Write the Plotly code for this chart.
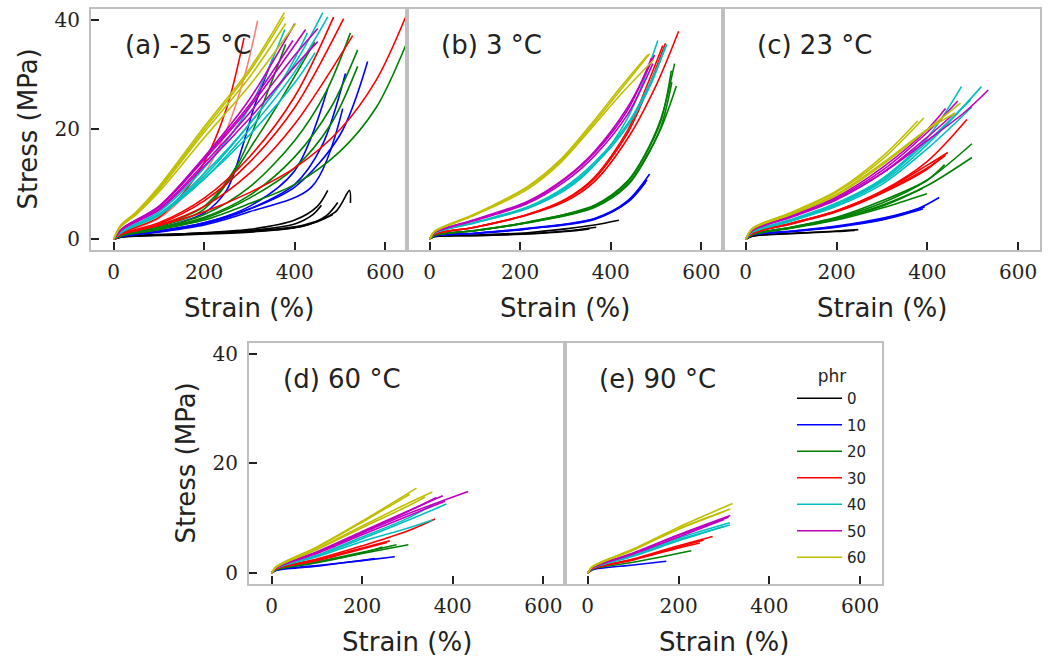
import plotly.graph_objects as go

PHR_LEVELS = [0, 10, 20, 30, 40, 50, 60]
PHR_COLORS = {0: "#000000", 10: "#0000ff", 20: "#008000", 30: "#ff0000",
              40: "#00bfbf", 50: "#bf00bf", 60: "#bfbf00"}
PANEL_LABELS = ["(a) -25 °C", "(b) 3 °C", "(c) 23 °C", "(d) 60 °C", "(e) 90 °C"]
X_TICKS = [0, 200, 400, 600]
Y_TICKS = [0, 20, 40]

# (phr, strain %, stress MPa) -- each tuple one tensile test curve
CURVES_M25 = [
    (0, [0, 20, 150, 300, 400, 450, 473], [0, 0.5, 1.0, 1.8, 3.5, 6.0, 8.9]),
    (0, [0, 20, 150, 300, 420, 490, 521, 523], [0, 0.5, 0.9, 1.5, 2.6, 5.0, 8.9, 6.6]),
    (0, [0, 20, 150, 300, 420, 470, 495], [0, 0.45, 0.9, 1.4, 2.4, 4.3, 6.7]),
    (0, [0, 20, 150, 300, 400, 440, 459], [0, 0.5, 1.0, 1.6, 2.8, 4.5, 6.2]),
    (0, [0, 20, 150, 300, 400, 450, 484], [0, 0.4, 0.8, 1.3, 2.1, 3.2, 4.5]),
    (10, [0, 20, 100, 200, 300, 400, 473], [0, 0.6, 1.5, 3.0, 6.0, 12.5, 27.5]),
    (10, [0, 20, 100, 200, 300, 400, 460, 512], [0, 0.6, 1.4, 2.8, 5.5, 10, 17, 30.2]),
    (10, [0, 20, 100, 200, 300, 437, 506], [0, 0.5, 1.3, 2.6, 5.0, 9.5, 23.8]),
    (10, [0, 20, 100, 200, 300, 400, 500, 561], [0, 0.6, 1.5, 3.0, 5.5, 9.5, 19, 32.4]),
    (10, [0, 20, 100, 200, 250, 285, 310, 352], [0, 0.7, 2.0, 4.8, 9.0, 17, 24, 33]),
    (20, [0, 20, 100, 200, 275, 341, 380], [0, 0.8, 2.5, 6.0, 13.8, 27, 35.5]),
    (20, [0, 20, 100, 200, 322, 444], [0, 0.8, 2.3, 5.5, 19.2, 35.9]),
    (20, [0, 20, 100, 200, 300, 400, 470, 523], [0, 0.8, 2.0, 4.5, 9.5, 18, 27, 37.6]),
    (20, [0, 20, 100, 200, 300, 400, 480, 539], [0, 0.7, 1.9, 4.0, 8.0, 15, 24, 34.5]),
    (20, [0, 20, 100, 200, 300, 400, 480, 539], [0, 0.7, 1.8, 3.8, 7.5, 13, 21, 31.5]),
    (20, [0, 20, 100, 200, 300, 400, 500, 580, 645], [0, 0.7, 1.8, 3.5, 6.5, 10, 16, 24, 35.3]),
    (30, [0, 20, 100, 150, 200, 250, 288], [0, 1.2, 4.0, 8.0, 14, 24, 36.7]),
    (30, [0, 20, 100, 200, 250, 290, 318], [0, 1.2, 3.8, 12, 20, 30, 39.8]),
    (30, [0, 20, 100, 200, 300, 400, 486], [0, 1.1, 3.0, 7.5, 15, 26, 40.5]),
    (30, [0, 20, 100, 200, 300, 400, 508], [0, 1.0, 2.8, 7.0, 14, 24, 40.2]),
    (30, [0, 20, 100, 200, 300, 400, 528], [0, 1.0, 2.6, 6.0, 12, 21, 37.1]),
    (30, [0, 20, 100, 200, 300, 400, 500, 580, 645], [0, 1.0, 2.5, 5.0, 8.5, 13, 20, 29, 40.5]),
    (40, [0, 20, 100, 200, 300, 400, 462], [0, 1.5, 4.6, 11.5, 21, 32, 41.3]),
    (40, [0, 20, 100, 200, 300, 400, 473], [0, 1.5, 4.4, 11, 20, 30.5, 40.5]),
    (40, [0, 20, 100, 200, 300, 378], [0, 1.6, 5.0, 13, 24, 38.2]),
    (40, [0, 20, 100, 200, 300, 380, 428], [0, 1.5, 4.5, 12, 21, 30, 37.6]),
    (40, [0, 20, 100, 200, 300, 400, 445], [0, 1.4, 4.3, 11, 19, 28.5, 34]),
    (50, [0, 20, 100, 200, 300, 400], [0, 2.0, 6.0, 15, 25.5, 39.3]),
    (50, [0, 20, 100, 200, 300, 424], [0, 2.0, 5.8, 14.5, 24, 38.2]),
    (50, [0, 20, 100, 200, 300, 400, 451], [0, 1.9, 5.5, 13.8, 23, 33.5, 38.4]),
    (50, [0, 20, 100, 200, 300, 400, 451], [0, 1.9, 5.3, 13.3, 22, 31.5, 36]),
    (50, [0, 20, 100, 200, 300, 396], [0, 2.0, 6.0, 14.8, 24.5, 36.2]),
    (60, [0, 15, 50, 100, 200, 300, 377], [0, 2.5, 5.0, 9.6, 20.5, 31, 41.3]),
    (60, [0, 15, 50, 100, 200, 300, 377], [0, 2.4, 4.8, 9.3, 20, 30.5, 40.5]),
    (60, [0, 15, 50, 100, 200, 300, 380], [0, 2.3, 4.7, 9.0, 19.5, 29.5, 39.3]),
    (60, [0, 15, 50, 100, 200, 300, 402], [0, 2.2, 4.5, 8.6, 18.5, 28, 39.3]),
]
# index of the curve in CURVES_M25 that is drawn faded (light red) in the original
FADED_M25 = [17]

CURVES_3 = [
    (0, [0, 10, 100, 216, 300, 364, 418], [0, 0.5, 0.75, 1.2, 1.9, 2.6, 3.45]),
    (0, [0, 10, 100, 216, 300, 368], [0, 0.5, 0.7, 1.0, 1.5, 2.2]),
    (0, [0, 10, 100, 216, 300, 353], [0, 0.45, 0.65, 0.95, 1.4, 1.9]),
    (10, [0, 10, 100, 216, 364, 437, 486], [0, 0.6, 1.1, 2.0, 3.8, 7.0, 11.9]),
    (10, [0, 10, 100, 216, 364, 437, 477], [0, 0.6, 1.1, 1.9, 3.7, 6.7, 10.4]),
    (10, [0, 10, 100, 216, 364, 437, 480], [0, 0.55, 1.05, 1.9, 3.6, 6.8, 10.8]),
    (20, [0, 10, 100, 216, 364, 437, 474, 511, 541], [0, 0.7, 1.6, 3.1, 6.2, 10.6, 15.2, 22, 32]),
    (20, [0, 10, 100, 216, 364, 437, 474, 511, 534], [0, 0.7, 1.6, 3.1, 6.1, 10.4, 15, 21.6, 30.7]),
    (20, [0, 10, 100, 216, 364, 437, 474, 511, 545], [0, 0.7, 1.55, 3.0, 5.9, 10.0, 14.4, 20.2, 27.9]),
    (20, [0, 10, 100, 216, 364, 437, 474, 511, 535], [0, 0.7, 1.55, 3.0, 5.8, 9.8, 14.2, 20.5, 28.6]),
    (30, [0, 10, 100, 216, 300, 364, 437, 500, 550], [0, 0.9, 2.2, 4.4, 6.9, 10.5, 18.3, 28, 37.9]),
    (30, [0, 10, 100, 216, 300, 364, 437, 480, 521], [0, 0.9, 2.2, 4.5, 7.2, 11, 19.3, 27, 35.7]),
    (30, [0, 10, 100, 216, 300, 364, 437, 480, 515], [0, 0.9, 2.2, 4.5, 7.3, 11.3, 19.8, 28, 35.3]),
    (40, [0, 10, 100, 216, 300, 364, 437, 504], [0, 1.1, 3.0, 5.6, 9.0, 13.5, 22, 36.2]),
    (40, [0, 10, 100, 216, 300, 364, 437, 490, 524], [0, 1.1, 3.1, 5.9, 9.6, 14, 21, 29, 35.5]),
    (40, [0, 10, 100, 216, 300, 364, 437, 490, 520], [0, 1.1, 3.0, 5.7, 9.3, 13.6, 20.6, 28.5, 35]),
    (50, [0, 10, 100, 216, 300, 364, 437, 497], [0, 1.2, 3.6, 6.9, 11.2, 16, 24, 33.6]),
    (50, [0, 10, 100, 216, 300, 364, 437, 490], [0, 1.2, 3.5, 6.7, 11, 15.7, 23.5, 33]),
    (50, [0, 10, 100, 216, 300, 364, 437, 493], [0, 1.2, 3.4, 6.5, 10.6, 15.2, 22.7, 32]),
    (60, [0, 10, 100, 216, 290, 357, 420, 482], [0, 1.4, 4.6, 9.6, 14.6, 21, 27.5, 33.6]),
    (60, [0, 10, 100, 216, 290, 357, 420, 486], [0, 1.4, 4.5, 9.4, 14.3, 20.6, 27, 33.8]),
    (60, [0, 10, 100, 216, 290, 357, 420, 495], [0, 1.3, 4.4, 9.1, 14, 20.2, 26.2, 32.7]),
]

CURVES_23 = [
    (0, [0, 15, 100, 200, 248], [0, 0.6, 1.1, 1.5, 1.76]),
    (0, [0, 15, 100, 200, 240], [0, 0.55, 1.0, 1.4, 1.6]),
    (10, [0, 15, 100, 200, 300, 380, 426], [0, 0.8, 1.5, 2.4, 3.8, 5.6, 7.6]),
    (10, [0, 15, 100, 200, 300, 394], [0, 0.8, 1.4, 2.3, 3.6, 5.9]),
    (10, [0, 15, 100, 200, 300, 390], [0, 0.75, 1.4, 2.2, 3.5, 5.5]),
    (20, [0, 15, 100, 200, 300, 400, 498], [0, 0.9, 2.2, 3.9, 6.6, 10.8, 17.4]),
    (20, [0, 15, 100, 200, 300, 400, 498], [0, 0.9, 2.1, 3.7, 6.2, 9.8, 14.9]),
    (20, [0, 15, 100, 200, 300, 400, 438], [0, 0.9, 2.2, 4.0, 7.0, 10.8, 13.6]),
    (20, [0, 15, 100, 200, 300, 399], [0, 0.85, 2.0, 3.5, 5.7, 8.3]),
    (20, [0, 15, 100, 200, 300, 390], [0, 0.85, 2.1, 3.7, 6.0, 9.3]),
    (30, [0, 15, 100, 200, 300, 400, 487], [0, 1.1, 2.9, 5.2, 8.8, 14.2, 21.8]),
    (30, [0, 15, 100, 200, 300, 400, 440], [0, 1.1, 2.8, 5.1, 8.6, 13.0, 15.3]),
    (30, [0, 15, 100, 200, 300, 400, 432], [0, 1.1, 2.8, 5.0, 8.4, 12.8, 15.0]),
    (30, [0, 15, 100, 200, 300, 400, 445], [0, 1.1, 2.9, 5.2, 8.7, 13.5, 15.8]),
    (40, [0, 15, 100, 200, 300, 400, 475], [0, 1.4, 3.6, 6.6, 11, 18.5, 27.8]),
    (40, [0, 15, 100, 200, 300, 400, 519], [0, 1.4, 3.4, 6.2, 10.4, 17.3, 27.8]),
    (40, [0, 15, 100, 200, 300, 400, 495], [0, 1.4, 3.5, 6.4, 10.7, 17.8, 25.4]),
    (40, [0, 15, 100, 200, 300, 400, 498], [0, 1.3, 3.3, 6.0, 10, 16.5, 24.1]),
    (50, [0, 15, 100, 200, 300, 400, 480, 534], [0, 1.7, 4.1, 7.3, 12, 18, 23, 27.2]),
    (50, [0, 15, 100, 200, 300, 400, 467], [0, 1.7, 4.2, 7.5, 12.5, 19.5, 25.2]),
    (50, [0, 15, 100, 200, 300, 400, 440], [0, 1.7, 4.3, 7.7, 13, 20, 23.8]),
    (50, [0, 15, 100, 200, 300, 400, 460], [0, 1.6, 4.0, 7.2, 12, 18.6, 23]),
    (60, [0, 15, 100, 200, 300, 392], [0, 2.0, 4.8, 8.6, 14.5, 22.1]),
    (60, [0, 15, 100, 200, 300, 379], [0, 2.0, 4.9, 8.8, 15, 21.6]),
    (60, [0, 15, 100, 200, 300, 400, 473], [0, 1.9, 4.5, 8.0, 13.5, 20, 24.8]),
    (60, [0, 15, 100, 200, 300, 400, 462], [0, 1.9, 4.6, 8.2, 13.8, 20, 23]),
]

CURVES_60 = [
    (10, [0, 10, 100, 200, 272], [0, 0.6, 1.4, 2.3, 3.0]),
    (10, [0, 10, 100, 228], [0, 0.5, 1.3, 2.7]),
    (20, [0, 10, 100, 200, 302], [0, 0.7, 2.0, 3.6, 5.2]),
    (20, [0, 10, 100, 200, 276], [0, 0.7, 2.1, 3.8, 5.2]),
    (20, [0, 10, 100, 200, 245], [0, 0.6, 1.9, 3.7, 4.8]),
    (30, [0, 10, 100, 200, 300, 361], [0, 0.8, 2.6, 5.0, 7.7, 9.9]),
    (30, [0, 10, 100, 200, 261], [0, 0.8, 2.4, 4.6, 5.9]),
    (30, [0, 10, 100, 200, 254], [0, 0.8, 2.3, 4.4, 5.6]),
    (40, [0, 10, 100, 200, 300, 358], [0, 0.9, 3.3, 6.6, 10, 12.6]),
    (40, [0, 10, 100, 200, 300, 355], [0, 0.9, 3.0, 5.8, 8.2, 9.7]),
    (40, [0, 10, 100, 200, 300, 386], [0, 0.9, 3.2, 6.3, 9.6, 12.6]),
    (50, [0, 10, 100, 200, 300, 434], [0, 1.0, 3.8, 7.3, 10.8, 14.9]),
    (50, [0, 10, 100, 200, 300, 378], [0, 1.0, 3.9, 7.6, 11.3, 14.1]),
    (50, [0, 10, 100, 200, 300, 383], [0, 1.0, 3.6, 7.0, 10.4, 13.1]),
    (50, [0, 10, 100, 200, 300, 364], [0, 1.0, 3.8, 7.5, 11.2, 13.8]),
    (60, [0, 10, 100, 200, 320], [0, 1.2, 4.8, 9.5, 15.5]),
    (60, [0, 10, 100, 200, 300, 355], [0, 1.1, 4.4, 8.6, 12.7, 14.8]),
    (60, [0, 10, 100, 200, 305], [0, 1.2, 4.7, 9.3, 14.4]),
    (60, [0, 10, 100, 200, 300, 339], [0, 1.1, 4.3, 8.3, 12.2, 13.9]),
]

CURVES_90 = [
    (10, [0, 10, 100, 173], [0, 0.6, 1.5, 2.2]),
    (20, [0, 10, 100, 228], [0, 0.7, 2.0, 4.1]),
    (30, [0, 10, 100, 200, 275], [0, 0.8, 2.6, 5.0, 6.7]),
    (30, [0, 10, 100, 200, 247], [0, 0.8, 2.4, 4.6, 5.5]),
    (30, [0, 10, 100, 200, 255], [0, 0.8, 2.5, 4.8, 6.0]),
    (40, [0, 10, 100, 200, 313], [0, 0.9, 3.2, 6.1, 8.8]),
    (40, [0, 10, 100, 200, 313], [0, 0.9, 3.3, 6.4, 9.2]),
    (40, [0, 10, 100, 200, 300], [0, 0.9, 3.1, 5.9, 8.5]),
    (50, [0, 10, 100, 200, 314], [0, 1.0, 3.7, 7.0, 10.5]),
    (50, [0, 10, 100, 200, 310], [0, 1.0, 3.6, 6.9, 10.2]),
    (50, [0, 10, 100, 200, 300], [0, 1.0, 3.5, 6.6, 9.8]),
    (60, [0, 10, 100, 200, 319], [0, 1.2, 4.4, 8.4, 12.7]),
    (60, [0, 10, 100, 200, 314], [0, 1.2, 4.3, 8.1, 11.7]),
    (60, [0, 10, 100, 200, 300], [0, 1.1, 4.2, 8.0, 11.2]),
]

PANELS = [CURVES_M25, CURVES_3, CURVES_23, CURVES_60, CURVES_90]

W, H = 1054, 661
# panel pixel boxes (left, right, top, bottom)
BOXES = [(91, 407, 8, 250), (407, 723, 8, 250), (723, 1040, 8, 250),
         (249, 565, 343, 585), (565, 882, 343, 585)]

fig = go.Figure()
legend_done = set()
for i, curves in enumerate(PANELS):
    ax = "" if i == 0 else str(i + 1)
    for j, (phr, strain, stress) in enumerate(curves):
        color = PHR_COLORS[phr]
        opacity = 0.5 if (i == 0 and j in FADED_M25) else 1.0
        show = False
        if phr not in legend_done and opacity == 1.0:
            legend_done.add(phr)
            show = True
        fig.add_trace(go.Scatter(
            x=strain, y=stress, mode="lines", opacity=opacity,
            line=dict(color=color, width=1.6, shape="spline", smoothing=0.9),
            name=str(phr), legendgroup=str(phr), showlegend=show,
            legendrank=PHR_LEVELS.index(phr),
            xaxis="x" + ax, yaxis="y" + ax, hoverinfo="skip"))

tickfont = dict(family="DejaVu Serif", size=20, color="#222")
layout = dict(width=W, height=H, autosize=False,
              margin=dict(l=0, r=0, t=0, b=0),
              paper_bgcolor="white", plot_bgcolor="white",
              font=dict(family="DejaVu Sans", color="#222"))
annotations = []
for i, (l, r, t, b) in enumerate(BOXES):
    ax = "" if i == 0 else str(i + 1)
    xkey = "xaxis" + ax
    ykey = "yaxis" + ax
    show_y = i in (0, 3)
    layout[xkey] = dict(
        domain=[l / W, r / W], anchor="y" + ax, range=[-50, 648],
        tickvals=X_TICKS, ticks="inside", ticklen=8, tickwidth=2,
        tickcolor="#222", showline=True, linecolor="#bfbfbf", linewidth=2,
        mirror=True, showgrid=False, zeroline=False, tickfont=tickfont,
        ticklabelstandoff=3)
    layout[ykey] = dict(
        domain=[1 - b / H, 1 - t / H], anchor="x" + ax, range=[-2, 41.95],
        tickvals=Y_TICKS, ticks="inside" if show_y else "", ticklen=8,
        tickwidth=2, tickcolor="#222", showticklabels=show_y,
        showline=True, linecolor="#bfbfbf", linewidth=2, mirror=True,
        showgrid=False, zeroline=False, tickfont=tickfont,
        ticklabelstandoff=5)
    annotations.append(dict(text=PANEL_LABELS[i], x=(l + 32) / W, y=1 - (t + 36) / H,
                            xref="paper", yref="paper", xanchor="left",
                            yanchor="middle", showarrow=False,
                            font=dict(size=26, family="DejaVu Sans", color="#222")))
    annotations.append(dict(text="Strain (%)", x=(l + r) / 2 / W, y=1 - (b + 58) / H,
                            xref="paper", yref="paper", xanchor="center",
                            yanchor="middle", showarrow=False,
                            font=dict(size=26, family="DejaVu Sans", color="#222")))
    if show_y:
        annotations.append(dict(text="Stress (MPa)", x=(l - 63) / W, y=1 - (t + b) / 2 / H,
                                xref="paper", yref="paper", xanchor="center",
                                yanchor="middle", showarrow=False, textangle=-90,
                                font=dict(size=26, family="DejaVu Sans", color="#222")))
layout["annotations"] = annotations
layout["legend"] = dict(
    x=792 / W, y=1 - 360 / H, xanchor="left", yanchor="top",
    bgcolor="rgba(0,0,0,0)", borderwidth=0, itemwidth=45,
    title=dict(text="phr", side="top center", font=dict(size=17)),
    font=dict(size=15, family="DejaVu Sans", color="#222"),
    tracegroupgap=4, traceorder="grouped")
fig.update_layout(**layout)
fig.write_html("out.html")
